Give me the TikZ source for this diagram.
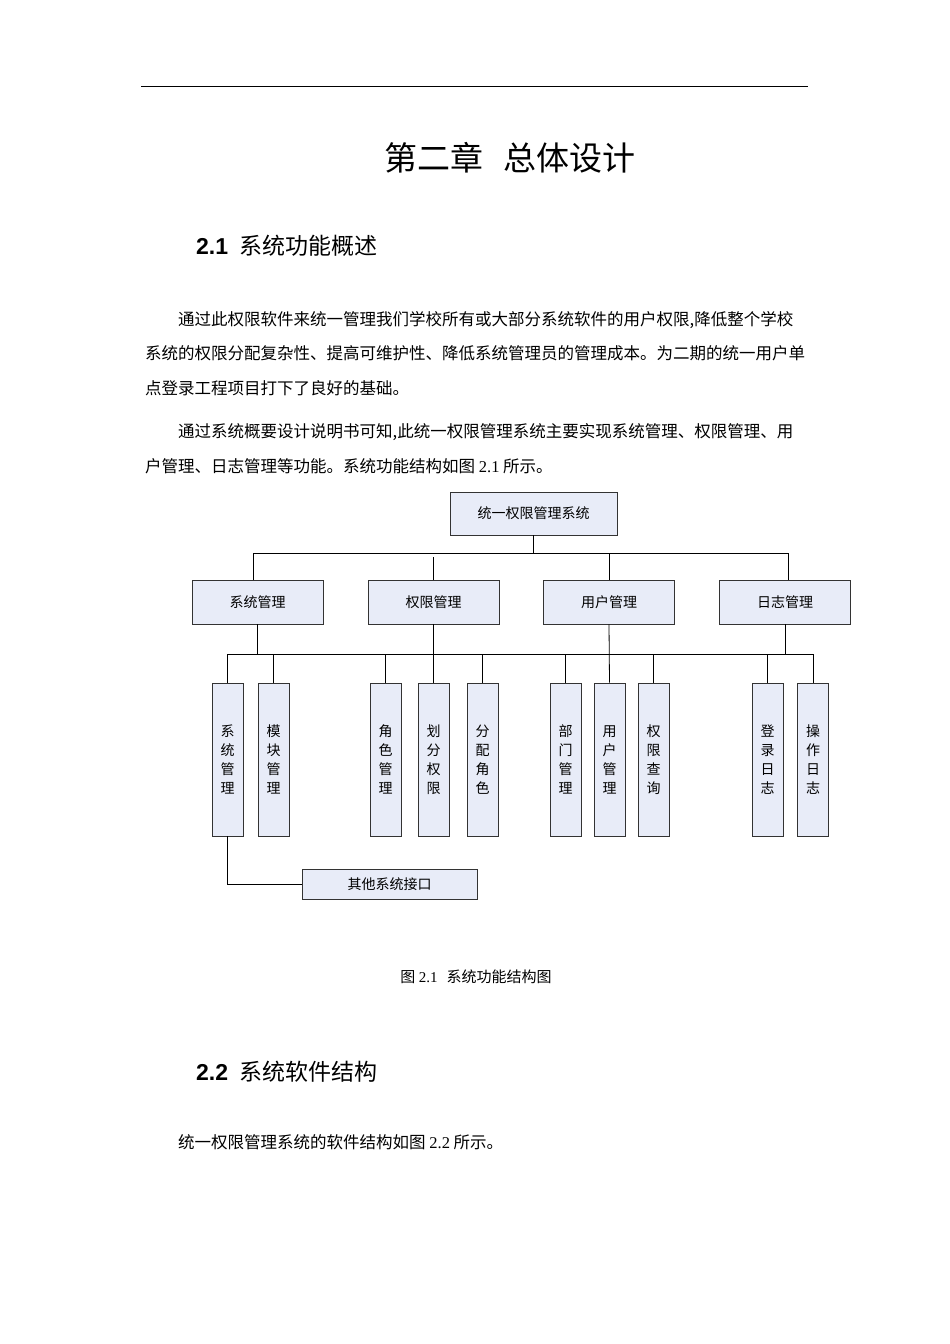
\documentclass[tikz,border=0pt]{standalone}
\usepackage{fontspec}
\setmainfont{Liberation Serif}
\newfontfamily\cjk{Noto Sans CJK SC}
\newfontfamily\secfont{Liberation Sans}
\XeTeXlinebreaklocale "zh"
\XeTeXlinebreakskip=0pt plus 2pt
\definecolor{boxfill}{HTML}{E8ECF8}
\begin{document}
\begin{tikzpicture}[x=1pt,y=-1pt,
  bx/.style={draw=black!80,fill=boxfill,line width=0.8pt,font=\cjk\fontsize{14}{16}\selectfont,inner sep=0pt},
  leaf/.style={bx,minimum width=31pt,minimum height=153pt,align=center,font=\cjk\fontsize{14}{19}\selectfont},
  ln/.style={draw=black,line width=0.8pt},
  body/.style={anchor=base west,inner sep=0pt,font=\cjk\fontsize{16.5}{20}\selectfont}]
\useasboundingbox[fill=white] (0,0) rectangle (950,1344);
\draw[line width=0.8pt] (141,86) -- (808,86);
\node[inner sep=0pt,font=\cjk\fontsize{33}{36}\selectfont] (title) at (510,158) {第二章\hspace{0.6em}总体设计};
\node[anchor=west,inner sep=0pt,font=\fontsize{23}{26}\selectfont] (s1) at (196,246) {{\secfont\bfseries 2.1}\hspace{0.5em}{\cjk 系统功能概述}};
\node[body] (p1) at (178,325) {\hbox to 630pt{通过此权限软件来统一管理我们学校所有或大部分系统软件的用户权限,降低整个学校}};
\node[body] (p2) at (145,359) {\hbox to 663pt{系统的权限分配复杂性、提高可维护性、降低系统管理员的管理成本。为二期的统一用户单}};
\node[body] (p3) at (145,394) {点登录工程项目打下了良好的基础。};
\node[body] (p4) at (178,437) {\hbox to 630pt{通过系统概要设计说明书可知,此统一权限管理系统主要实现系统管理、权限管理、用}};
\node[body] (p5) at (145,472) {户管理、日志管理等功能。系统功能结构如图 {\rmfamily 2.1} 所示。};
% diagram
\node[bx,minimum width=167pt,minimum height=43pt] (root) at (533.5,513.5) {统一权限管理系统};
\foreach \n/\x/\t in {a/257.5/系统管理,b/433.5/权限管理,c/609/用户管理,d/785/日志管理}
  \node[bx,minimum width=131pt,minimum height=44pt] (\n) at (\x,602) {\t};
\foreach \n/\x/\t in {a1/227.5/系\\统\\管\\理,a2/273.5/模\\块\\管\\理,b1/385.5/角\\色\\管\\理,b2/433.5/划\\分\\权\\限,b3/482.5/分\\配\\角\\色,c1/565.5/部\\门\\管\\理,c2/609.5/用\\户\\管\\理,c3/653.5/权\\限\\查\\询,d1/767.5/登\\录\\日\\志,d2/813/操\\作\\日\\志}
  \node[leaf] (\n) at (\x,759.5) {\t};
\node[bx,minimum width=175pt,minimum height=30pt] (other) at (389.5,884) {其他系统接口};
\coordinate (t1) at (253,553); \coordinate (t2) at (788,553);
\draw[ln] (root.south) -- (533.5,553);
\draw[ln] (253,580) |- (t2) -- (788,580);
\draw[ln] (433.5,557) -- (b.north);
\draw[ln] (609,553) -- (c.north);
\draw[ln] (a.south) -- (257.5,654);
\draw[ln] (b.south) -- (b2.north);
\draw[ln] (c.south) -- (c2.north);
\draw[ln] (d.south) -- (785,654);
\draw[ln] (a1.north) |- (813,654) -- (d2.north);
\foreach \n in {a2,b1,b3,c1,c3,d1} \draw[ln] (\n.north) -- ++(0,-29);
\draw[ln] (a1.south) |- (other.west);
\node[inner sep=0pt,font=\cjk\fontsize{15}{18}\selectfont] (cap) at (476,977) {图 {\rmfamily 2.1}\hspace{0.6em}系统功能结构图};
\node[anchor=west,inner sep=0pt,font=\fontsize{23}{26}\selectfont] (s2) at (196,1072) {{\secfont\bfseries 2.2}\hspace{0.5em}{\cjk 系统软件结构}};
\node[body] (p6) at (178,1148) {统一权限管理系统的软件结构如图 {\rmfamily 2.2} 所示。};
\end{tikzpicture}
\end{document}
